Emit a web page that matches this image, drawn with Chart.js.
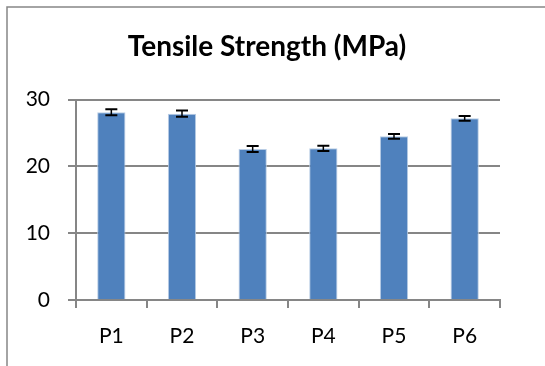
<!DOCTYPE html>
<html>
<head>
<meta charset="utf-8">
<script src="https://cdn.jsdelivr.net/npm/chart.js@4"></script>
<style>
  body { margin: 0; background: #fff; }
  canvas { display: block; }
</style>
</head>
<body>
<canvas id="myChart" width="545" height="366"></canvas>
<script>
const labels = ["P1", "P2", "P3", "P4", "P5", "P6"];
const strength = [28.1, 27.9, 22.6, 22.7, 24.5, 27.2];
const errors = [0.45, 0.45, 0.45, 0.4, 0.35, 0.35];
const yTicks = [0, 10, 20, 30];

const gray = "#868686";

// outer chart frame (only left and top edges are visible in the picture)
const framePlugin = {
  id: "frame",
  beforeDraw(chart) {
    const ctx = chart.ctx;
    ctx.save();
    ctx.strokeStyle = gray;
    ctx.lineWidth = 1.5;
    ctx.beginPath();
    ctx.moveTo(7, 400);
    ctx.lineTo(7, 7);
    ctx.lineTo(600, 7);
    ctx.stroke();
    ctx.restore();
  },
  // title in the picture is centred a bit right of the plot centre
  afterLayout(chart) {
    if (chart.titleBlock) chart.titleBlock.left = 34;
  }
};

// error bars drawn from the errors array through the y scale
const errorBarPlugin = {
  id: "errorBars",
  afterDatasetsDraw(chart) {
    const ctx = chart.ctx;
    const y = chart.scales.y;
    const meta = chart.getDatasetMeta(0);
    ctx.save();
    ctx.strokeStyle = "#000";
    meta.data.forEach((bar, i) => {
      const top = y.getPixelForValue(strength[i] + errors[i]);
      const bot = y.getPixelForValue(strength[i] - errors[i]);
      ctx.lineWidth = 1.5;
      ctx.beginPath();
      ctx.moveTo(bar.x, top);
      ctx.lineTo(bar.x, bot);
      ctx.stroke();
      ctx.lineWidth = 2;
      ctx.beginPath();
      ctx.moveTo(bar.x - 6, top);
      ctx.lineTo(bar.x + 6, top);
      ctx.moveTo(bar.x - 6, bot);
      ctx.lineTo(bar.x + 6, bot);
      ctx.stroke();
    });
    ctx.restore();
  }
};

let myChart = document.getElementById("myChart");

massChart = new Chart(myChart, {
  type: "bar",
  data: {
    labels: labels,
    datasets: [{
      label: "Tensile Strength (MPa)",
      data: strength,
      backgroundColor: "#4f81bd",
      borderColor: "#b9cde5",
      borderWidth: 1,
      barPercentage: 0.4,
      categoryPercentage: 1
    }]
  },
  options: {
    responsive: false,
    animation: false,
    layout: { padding: { left: 0, right: 45, top: 0, bottom: 0 } },
    plugins: {
      legend: { display: false },
      tooltip: { enabled: false },
      title: {
        display: true,
        text: "Tensile Strength (MPa)",
        color: "#000",
        font: { family: "Lato", size: 28, weight: "bold", lineHeight: 1.2 },
        padding: { top: 30, bottom: 36 }
      }
    },
    scales: {
      x: {
        grid: { drawOnChartArea: false, drawTicks: true, tickLength: 8, color: gray, lineWidth: 2 },
        border: { color: gray, width: 2 },
        ticks: { color: "#000", font: { family: "Lato", size: 21 }, padding: 16 },
        afterFit(scale) { scale.height = 66; }
      },
      y: {
        min: 0,
        max: 30,
        afterBuildTicks(scale) { scale.ticks = yTicks.map(v => ({ value: v })); },
        grid: { color: gray, lineWidth: 2, drawTicks: true, tickLength: 8 },
        border: { color: gray, width: 2 },
        ticks: { color: "#000", font: { family: "Lato", size: 21 }, padding: 18 },
        afterFit(scale) { scale.width = 76; }
      }
    }
  },
  plugins: [framePlugin, errorBarPlugin]
});
</script>
</body>
</html>
